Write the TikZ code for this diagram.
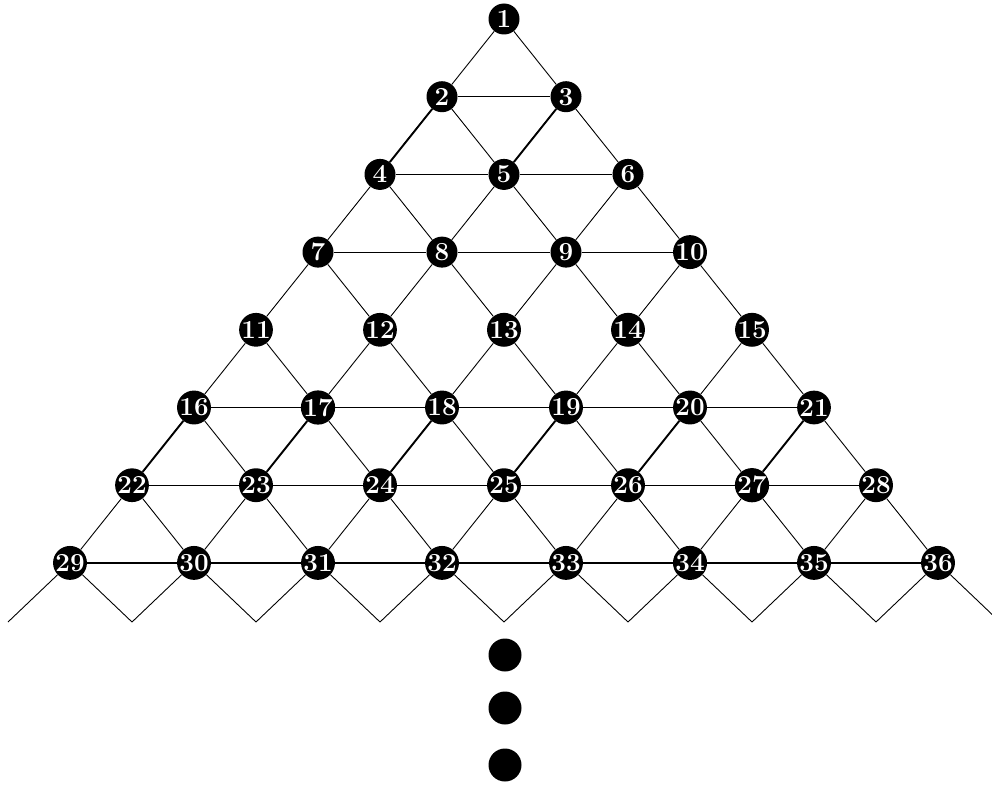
\documentclass[tikz,border=0pt]{standalone}
\usepackage{fontspec}
\usetikzlibrary{backgrounds}
\begin{document}
\begin{tikzpicture}[x=1pt,y=-1pt,
  numnode/.style={circle, fill=black, minimum size=31pt, inner sep=0pt,
    text=white, font=\fontsize{26}{26}\selectfont\bfseries},
  dotnode/.style={circle, fill=black, minimum size=33pt, inner sep=0pt},
  diag/.style={line width=0.9pt},
  heavy/.style={line width=1.9pt},
  horiz/.style={line width=1.2pt}]
\useasboundingbox (0,0) rectangle (992,784);
\clip (0,0) rectangle (992,784);

% numbered vertices of the triangular lattice, row by row
\foreach \r in {1,...,8} {
  \foreach \k in {1,...,\r} {
    \pgfmathtruncatemacro\idx{(\r-1)*\r/2+\k}
    \pgfmathsetmacro\xx{504-62*(\r-1)+124*(\k-1)}
    \pgfmathsetmacro\yy{19+77.7*(\r-1)}
    \node[numnode] (n\idx) at (\xx,\yy) {\idx};
  }
}

% lower ends of the open zigzag under the last row
\foreach \j in {0,...,8} {
  \coordinate (b\j) at ({8+124*\j},622);
}

% continuation dots
\node[dotnode] (d1) at (505,655) {};
\node[dotnode] (d2) at (505,708) {};
\node[dotnode] (d3) at (505,765) {};

\begin{scope}[on background layer]
  % diagonal edges to the two children of every vertex
  \foreach \r in {1,...,7} {
    \foreach \k in {1,...,\r} {
      \pgfmathtruncatemacro\a{(\r-1)*\r/2+\k}
      \pgfmathtruncatemacro\bl{\r*(\r+1)/2+\k}
      \pgfmathtruncatemacro\br{\bl+1}
      \draw[diag] (n\a) -- (n\bl);
      \draw[diag] (n\a) -- (n\br);
    }
  }
  % heavier left-going diagonals
  \foreach \a/\b in {2/4,3/5,16/22,17/23,18/24,19/25,20/26,21/27}
    \draw[heavy] (n\a) -- (n\b);
  % horizontal edges
  \foreach \r in {2,3,4,6,7,8} {
    \pgfmathtruncatemacro\last{\r-1}
    \foreach \k in {1,...,\last} {
      \pgfmathtruncatemacro\a{(\r-1)*\r/2+\k}
      \pgfmathtruncatemacro\b{\a+1}
      \draw[horiz] (n\a) -- (n\b);
    }
  }
  % zigzag below the last row
  \foreach \k in {0,...,7} {
    \pgfmathtruncatemacro\a{29+\k}
    \pgfmathtruncatemacro\nx{\k+1}
    \draw[diag] (n\a) -- (b\k);
    \draw[diag] (n\a) -- (b\nx);
  }
\end{scope}
\end{tikzpicture}
\end{document}
